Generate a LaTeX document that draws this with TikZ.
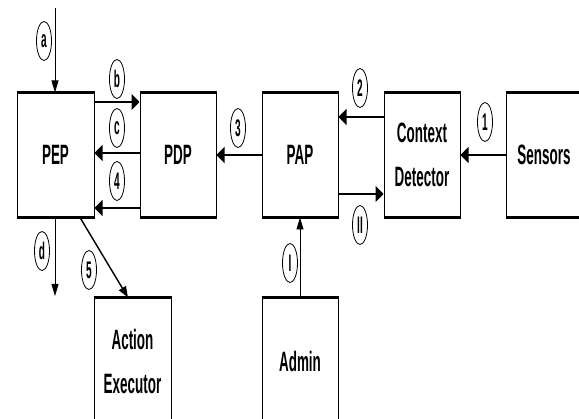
\documentclass[tikz,border=0pt]{standalone}
\usepackage{fontspec}
\newfontfamily\boxfont{Liberation Sans}[FakeStretch=0.48]
\newfontfamily\labfont{Liberation Sans}[FakeStretch=0.42]
\usetikzlibrary{arrows.meta,shapes.geometric}
\begin{document}
\begin{tikzpicture}[x=1pt,y=-1pt,
  box/.style={draw,line width=1pt,inner sep=0pt,align=center,minimum width=76pt,minimum height=124pt,
    font=\boxfont\bfseries\fontsize{28}{44}\selectfont},
  lab/.style={ellipse,draw,line width=0.8pt,minimum width=15pt,minimum height=39pt,inner sep=0pt,
    font=\labfont\bfseries\fontsize{24}{24}\selectfont},
  harr/.style={line width=2.2pt,-{Triangle[length=8pt,width=16pt]}},
  varr/.style={line width=0.9pt,-{Triangle[length=12pt,width=7pt]}},
  darr/.style={line width=1.4pt,-{Triangle[length=11pt,width=8pt]}},
  hedge/.style={line width=2.6pt}]
\useasboundingbox (0,0) rectangle (579,419);
% boxes
\node[box,minimum width=77pt] (pep) at (55.5,155) {PEP};
\node[box] (pdp) at (178,155) {PDP};
\node[box] (pap) at (300,155) {PAP};
\node[box] (cd) at (422,155) {Context\\Detector};
\node[box] (sen) at (544,155) {Sensors};
\node[box,minimum width=77pt,minimum height=126pt] (ae) at (132.5,361) {Action\\Executor};
\node[box,minimum height=126pt] (adm) at (300,361) {Admin};
\foreach \n in {pep,pdp,pap,cd,sen,ae,adm}
  \draw[hedge] (\n.north west) -- (\n.north east);
\foreach \n in {pep,pdp,pap,cd,sen}
  \draw[hedge] (\n.south west) -- (\n.south east);
% free ends
\coordinate (atop) at (55,8);
\coordinate (dend) at (55,296);
% connectors
\draw[varr] (atop) -- (atop |- pep.north);
\draw[harr] (pep.east |- 0,102) -- (pdp.west |- 0,102);
\draw[harr] (pdp.west |- 0,153) -- (pep.east |- 0,153);
\draw[harr] (pdp.west |- 0,208) -- (pep.east |- 0,208);
\draw[varr] (pep.south -| dend) -- (dend);
\draw[darr] (pep.south -| 80,0) -- (ae.north -| 128,0);
\draw[harr] (pap.west) -- (pdp.east);
\draw[harr] (cd.west |- 0,117) -- (pap.east |- 0,117);
\draw[harr] (pap.east |- 0,194) -- (cd.west |- 0,194);
\draw[harr] (sen.west) -- (cd.east);
\draw[varr] (adm.north) -- (pap.south);
% labels
\node[lab] (la) at (44,41) {a};
\node[lab] (lb) at (117,79) {b};
\node[lab] (lc) at (117,128) {c};
\node[lab] (l4) at (117,181) {4};
\node[lab] (ld) at (42,251) {d};
\node[lab] (l5) at (89,270) {5};
\node[lab] (l3) at (238,128) {3};
\node[lab] (l2) at (360,88) {2};
\node[lab] (lII) at (360,225) {II};
\node[lab] (l1) at (485,122) {1};
\node[lab] (lI) at (290,263) {I};
\end{tikzpicture}
\end{document}
